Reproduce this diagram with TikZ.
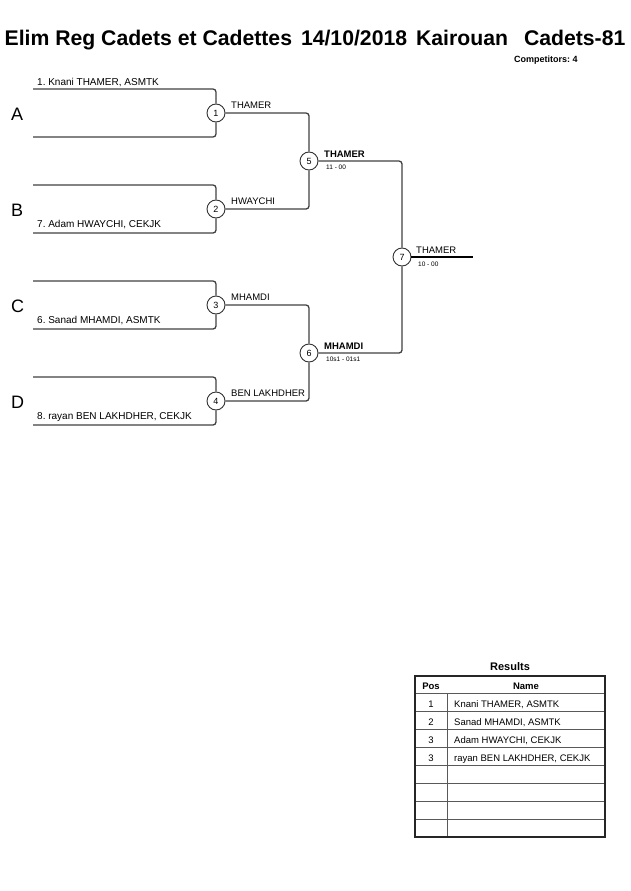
\documentclass[tikz,border=0pt]{standalone}
\usepackage{fontspec}
\setmainfont{Liberation Sans}
\usetikzlibrary{positioning}
\frenchspacing

\tikzset{
  bout/.style={circle, draw=black!80, line width=0.9pt, fill=white, inner sep=0pt, minimum size=18pt, font=\fontsize{9}{9}\selectfont},
  bracket/.style={draw=black!75, line width=1.3pt, rounded corners=3pt},
  namelbl/.style={anchor=base west, inner sep=0pt, font=\fontsize{10}{10}\selectfont},
  winlbl/.style={anchor=base west, inner sep=0pt, font=\fontsize{9.5}{9.5}\selectfont},
  winbold/.style={anchor=base west, inner sep=0pt, font=\fontsize{9.5}{9.5}\selectfont\bfseries},
  scorelbl/.style={anchor=base west, inner sep=0pt, font=\fontsize{6.5}{6.5}\selectfont},
  poollbl/.style={anchor=base west, inner sep=0pt, font=\fontsize{18}{18}\selectfont},
  cell/.style={anchor=base, inner sep=0pt, font=\fontsize{9.5}{9.5}\selectfont},
  cellname/.style={anchor=base west, inner sep=0pt, font=\fontsize{9.5}{9.5}\selectfont},
  grid/.style={draw=black!65, line width=0.9pt},
}

\begin{document}
\begin{tikzpicture}[x=1pt, y=-1pt]
\useasboundingbox (0,0) rectangle (630,891);
% header
\node[anchor=base, inner sep=0pt, font=\fontsize{21.2}{21.2}\selectfont\bfseries] (title) at (315,46) {Elim Reg Cadets et Cadettes\hspace{9pt}14/10/2018\hspace{9pt}Kairouan\hspace{16pt}Cadets-81};
\node[anchor=base west, inner sep=0pt, font=\fontsize{9}{9}\selectfont\bfseries] (ncomp) at (514,63) {Competitors: 4};

% bouts
\node[bout] (m1) at (216,113) {1};
\node[bout] (m2) at (216,209) {2};
\node[bout] (m3) at (216,305) {3};
\node[bout] (m4) at (216,401) {4};
\node[bout] (m5) at (309,161) {5};
\node[bout] (m6) at (309,353) {6};
\node[bout] (m7) at (402,257) {7};

% entry lines
\coordinate (e1) at (33,89);
\coordinate (e2) at (33,137);
\coordinate (e3) at (33,185);
\coordinate (e4) at (33,233);
\coordinate (e5) at (33,281);
\coordinate (e6) at (33,329);
\coordinate (e7) at (33,377);
\coordinate (e8) at (33,425);
\coordinate (champ) at (473,257);

\draw[bracket] (e1) -| (m1);
\draw[bracket] (e2) -| (m1);
\draw[bracket] (e3) -| (m2);
\draw[bracket] (e4) -| (m2);
\draw[bracket] (e5) -| (m3);
\draw[bracket] (e6) -| (m3);
\draw[bracket] (e7) -| (m4);
\draw[bracket] (e8) -| (m4);
\draw[bracket] (m1) -| (m5);
\draw[bracket] (m2) -| (m5);
\draw[bracket] (m3) -| (m6);
\draw[bracket] (m4) -| (m6);
\draw[bracket] (m5) -| (m7);
\draw[bracket] (m6) -| (m7);
\draw[line width=1.3pt] (m7) -- (champ);

% pools
\node[poollbl] (pA) at (11,120) {A};
\node[poollbl] (pB) at (11,216) {B};
\node[poollbl] (pC) at (11,312) {C};
\node[poollbl] (pD) at (11,408) {D};

% competitors
\node[namelbl] (c1) at (37,85) {1. Knani THAMER, ASMTK};
\node[namelbl] (c7) at (37,227) {7. Adam HWAYCHI, CEKJK};
\node[namelbl] (c6) at (37,323) {6. Sanad MHAMDI, ASMTK};
\node[namelbl] (c8) at (37,419) {8. rayan BEN LAKHDHER, CEKJK};

% winners
\node[winlbl] (w1) at (231,108) {THAMER};
\node[winlbl] (w2) at (231,204) {HWAYCHI};
\node[winlbl] (w3) at (231,300) {MHAMDI};
\node[winlbl] (w4) at (231,396) {BEN LAKHDHER};
\node[winbold] (w5) at (324,157) {THAMER};
\node[scorelbl] (s5) at (326,169) {11 - 00};
\node[winbold] (w6) at (324,349) {MHAMDI};
\node[scorelbl] (s6) at (326,361) {10s1 - 01s1};
\node[winlbl] (w7) at (416,253) {THAMER};
\node[scorelbl] (s7) at (418,266) {10 - 00};

% results
\node[anchor=base, inner sep=0pt, font=\fontsize{11}{11}\selectfont\bfseries] (restitle) at (510,670) {Results};
\draw[grid] (415,693) -- (605,693);
\draw[grid] (415,711) -- (605,711);
\draw[grid] (415,729) -- (605,729);
\draw[grid] (415,747) -- (605,747);
\draw[grid] (415,765) -- (605,765);
\draw[grid] (415,783) -- (605,783);
\draw[grid] (415,801) -- (605,801);
\draw[grid] (415,819) -- (605,819);
\draw[grid] (447,693) -- (447,837);
\draw[line width=2pt, black!85] (415,676) rectangle (605,837);
\node[cell, font=\fontsize{9.5}{9.5}\selectfont\bfseries] (hpos) at (431,689) {Pos};
\node[cell, font=\fontsize{9.5}{9.5}\selectfont\bfseries] (hname) at (526,689) {Name};
\node[cell] (p1) at (431,707) {1};
\node[cellname] (r1) at (454,707) {Knani THAMER, ASMTK};
\node[cell] (p2) at (431,725) {2};
\node[cellname] (r2) at (454,725) {Sanad MHAMDI, ASMTK};
\node[cell] (p3) at (431,743) {3};
\node[cellname] (r3) at (454,743) {Adam HWAYCHI, CEKJK};
\node[cell] (p4) at (431,761) {3};
\node[cellname] (r4) at (454,761) {rayan BEN LAKHDHER, CEKJK};
\end{tikzpicture}
\end{document}
